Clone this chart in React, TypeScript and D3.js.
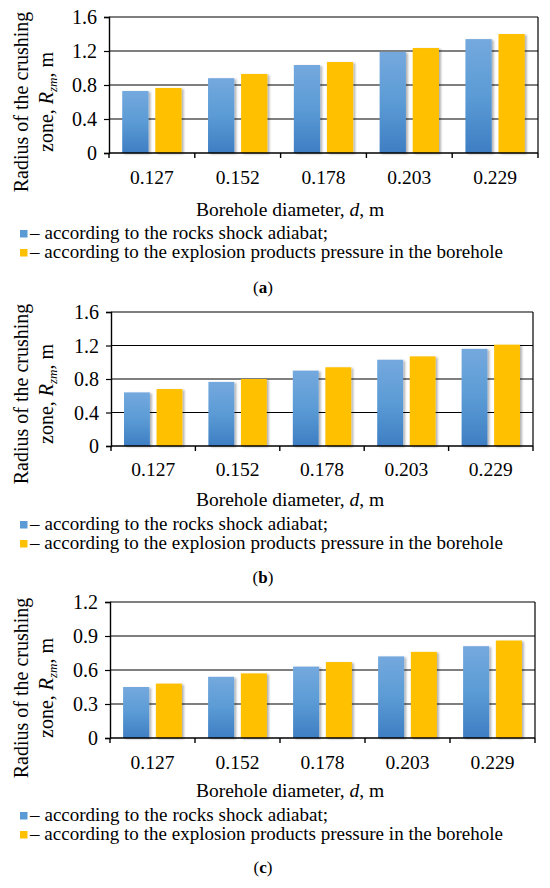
import { useEffect, useRef } from 'react';
import * as d3 from 'd3';

// Borehole diameters, m
const categories = ['0.127', '0.152', '0.178', '0.203', '0.229'];

// Radius of the crushing zone, m — (a), (b), (c)
const shockA = [0.73, 0.88, 1.035, 1.19, 1.34];
const pressureA = [0.765, 0.93, 1.07, 1.235, 1.4];
const shockB = [0.64, 0.765, 0.9, 1.03, 1.16];
const pressureB = [0.68, 0.8, 0.94, 1.07, 1.21];
const shockC = [0.45, 0.54, 0.63, 0.72, 0.81];
const pressureC = [0.48, 0.57, 0.67, 0.76, 0.86];

const ticksAB = [0, 0.4, 0.8, 1.2, 1.6];
const ticksC = [0, 0.3, 0.6, 0.9, 1.2];

const seriesKeys = ['shock', 'pressure'];
const legendLabels = [
  '– according to the rocks shock adiabat;',
  '– according to the explosion products pressure in the borehole',
];
const captions = ['a', 'b', 'c'];

const FONT = '"Liberation Serif", "Times New Roman", serif';
const BLUE = '#5B9BD5';
const YELLOW = '#FFC000';

const panels = [
  { shock: shockA, pressure: pressureA, ticks: ticksAB, top: 17, bottom: 153, left: 109, right: 538,
    tickY: 184, titleY: 216, leg1: 239, leg2: 258, capY: 293, labelY: 102 },
  { shock: shockB, pressure: pressureB, ticks: ticksAB, top: 312, bottom: 446, left: 111, right: 533,
    tickY: 476, titleY: 506, leg1: 530, leg2: 549, capY: 583, labelY: 394 },
  { shock: shockC, pressure: pressureC, ticks: ticksC, top: 602, bottom: 738, left: 110, right: 535,
    tickY: 769, titleY: 797, leg1: 821, leg2: 840, capY: 873, labelY: 688 },
];

export default function App() {
  const svgRef = useRef<SVGSVGElement>(null);

  useEffect(() => {
    if (!svgRef.current) return;
    const svg = d3.select(svgRef.current);
    svg.selectAll('*').remove();

    const defs = svg.append('defs');
    const grad = defs.append('linearGradient')
      .attr('id', 'blueGrad')
      .attr('x1', 0).attr('y1', 0).attr('x2', 0).attr('y2', 1);
    grad.append('stop').attr('offset', '0%').attr('stop-color', '#74A9DE');
    grad.append('stop').attr('offset', '50%').attr('stop-color', '#5B9BD5');
    grad.append('stop').attr('offset', '100%').attr('stop-color', '#3E7EC3');

    const shadow = defs.append('filter')
      .attr('id', 'barShadow')
      .attr('x', '-20%').attr('y', '-10%').attr('width', '150%').attr('height', '130%');
    shadow.append('feDropShadow')
      .attr('dx', 2).attr('dy', 1)
      .attr('stdDeviation', 1.2)
      .attr('flood-color', '#000')
      .attr('flood-opacity', 0.3);

    svg.append('rect').attr('width', 550).attr('height', 888).attr('fill', '#fff');

    panels.forEach((p, pi) => {
      const g = svg.append('g').attr('font-family', FONT).attr('fill', '#000');

      const x = d3.scaleBand<string>()
        .domain(categories)
        .range([p.left, p.right]);
      const x1 = d3.scaleBand<string>()
        .domain(seriesKeys)
        .range([0, x.bandwidth()])
        .paddingInner(0.205)
        .paddingOuter(0.4);
      const y = d3.scaleLinear()
        .domain([0, p.ticks[p.ticks.length - 1]])
        .range([p.bottom, p.top]);

      // gridlines
      g.append('g')
        .selectAll('line')
        .data(p.ticks.slice(1))
        .join('line')
        .attr('x1', p.left).attr('x2', p.right)
        .attr('y1', d => y(d)).attr('y2', d => y(d))
        .attr('stroke', '#000').attr('stroke-width', 1.2);

      // right frame
      g.append('line')
        .attr('x1', p.right).attr('x2', p.right)
        .attr('y1', p.top).attr('y2', p.bottom)
        .attr('stroke', '#000').attr('stroke-width', 1.2);

      // y axis
      const yAxis = d3.axisLeft(y)
        .tickValues(p.ticks)
        .tickSize(5)
        .tickPadding(7)
        .tickFormat(d => String(d));
      g.append('g')
        .attr('transform', `translate(${p.left},0)`)
        .call(yAxis)
        .call(a => a.select('.domain').attr('stroke', '#000').attr('stroke-width', 1.4))
        .call(a => a.selectAll('.tick line').attr('stroke', '#000').attr('stroke-width', 1.2))
        .call(a => a.selectAll('.tick text')
          .attr('font-family', FONT)
          .attr('font-size', 20)
          .attr('fill', '#000')
          .attr('dy', '0.33em'));

      // bars
      const rows = categories.map((c, i) => ({ c, shock: p.shock[i], pressure: p.pressure[i] }));
      const groups = g.append('g')
        .selectAll('g')
        .data(rows)
        .join('g')
        .attr('transform', d => `translate(${x(d.c)},0)`);
      groups.selectAll('rect')
        .data(d => seriesKeys.map(k => ({ k, v: (d as any)[k] as number })))
        .join('rect')
        .attr('x', d => x1(d.k)!)
        .attr('width', x1.bandwidth())
        .attr('y', d => y(d.v))
        .attr('height', d => p.bottom - y(d.v))
        .attr('fill', d => d.k === 'shock' ? 'url(#blueGrad)' : YELLOW)
        .attr('filter', 'url(#barShadow)');

      // x axis line + boundary ticks
      g.append('line')
        .attr('x1', p.left).attr('x2', p.right)
        .attr('y1', p.bottom).attr('y2', p.bottom)
        .attr('stroke', '#000').attr('stroke-width', 1.4);
      const bounds = [...categories.map(c => x(c)!), p.right];
      g.append('g')
        .selectAll('line')
        .data(bounds)
        .join('line')
        .attr('x1', d => d).attr('x2', d => d)
        .attr('y1', p.bottom).attr('y2', p.bottom + 5)
        .attr('stroke', '#000').attr('stroke-width', 1.4);

      // x tick labels
      g.append('g')
        .selectAll('text')
        .data(categories)
        .join('text')
        .attr('x', d => x(d)! + x.bandwidth() / 2)
        .attr('y', p.tickY)
        .attr('text-anchor', 'middle')
        .attr('font-size', 19.5)
        .text(d => d);

      // y axis title
      const yl = g.append('g').attr('transform', `translate(0,${p.labelY}) rotate(-90)`);
      yl.append('text')
        .attr('x', 0).attr('y', 28)
        .attr('text-anchor', 'middle')
        .attr('font-size', 20)
        .text('Radius of the crushing');
      const t2 = yl.append('text')
        .attr('x', 0).attr('y', 53)
        .attr('text-anchor', 'middle')
        .attr('font-size', 20);
      t2.append('tspan').text('zone, ');
      t2.append('tspan').attr('font-style', 'italic').text('R');
      t2.append('tspan').attr('font-style', 'italic').attr('font-size', 13).attr('dy', 4).text('zm');
      t2.append('tspan').attr('dy', -4).text(', m');

      // x axis title
      const xt = g.append('text')
        .attr('x', 290).attr('y', p.titleY)
        .attr('text-anchor', 'middle')
        .attr('font-size', 19.5);
      xt.append('tspan').text('Borehole diameter, ');
      xt.append('tspan').attr('font-style', 'italic').text('d');
      xt.append('tspan').text(', m');

      // legend
      const legendTargets = [328, 503];
      [p.leg1, p.leg2].forEach((ly, li) => {
        g.append('rect')
          .attr('x', 20).attr('y', ly - 9)
          .attr('width', 7.5).attr('height', 7.5)
          .attr('fill', li === 0 ? BLUE : YELLOW);
        const t = g.append('text')
          .attr('x', 30).attr('y', ly)
          .attr('font-size', 19)
          .text(legendLabels[li]);
        const node = t.node() as SVGTextElement;
        const natural = node.getComputedTextLength();
        const spaces = legendLabels[li].split(' ').length - 1;
        const extra = (legendTargets[li] - 30 - natural) / spaces;
        if (extra > 0) t.attr('word-spacing', extra);
      });

      // caption
      const cap = g.append('text')
        .attr('x', 263).attr('y', p.capY)
        .attr('text-anchor', 'middle')
        .attr('font-size', 17);
      cap.append('tspan').text('(');
      cap.append('tspan').attr('font-weight', 'bold').text(captions[pi]);
      cap.append('tspan').text(')');
    });
  }, []);

  return (
    <svg
      ref={svgRef}
      width={550}
      height={888}
      style={{ position: 'absolute', left: 0, top: 0, display: 'block' }}
    />
  );
}
